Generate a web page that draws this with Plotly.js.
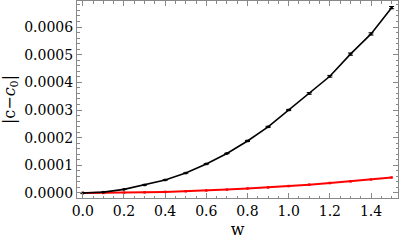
<!DOCTYPE html>
<html><head><meta charset="utf-8">
<script src="https://cdn.plot.ly/plotly-3.0.1.min.js"></script>
<style>html,body{margin:0;padding:0;background:#fff}#chart{width:399px;height:245px}</style>
</head><body><div id="chart"></div>
<script>
const w = [0.0,0.1,0.2,0.3,0.4,0.5,0.6,0.7,0.8,0.9,1.0,1.1,1.2,1.3,1.4,1.5];
const blackVals = [0,0.000003,0.000013,0.000029,0.000047,0.000072,0.000105,0.000143,0.000188,0.000239,0.0003,0.00036,0.000422,0.000502,0.000575,0.00067];
const blackErr = [0,0,0,0,0,0,0.000001,0.000001,0.000002,0.000002,0.000002,0.000003,0.000003,0.000004,0.000004,0.000004];
const redVals = [0,0.0000003,0.000001,0.0000023,0.000004,0.0000063,0.000009,0.0000123,0.000016,0.00002,0.000025,0.00003,0.000036,0.000042,0.000049,0.000056];

const traces = [
  {x:w, y:redVals, mode:'lines+markers', line:{color:'#ff0000', width:2}, marker:{color:'#ff0000', size:2.5, symbol:'square'}},
  {x:w, y:blackVals, mode:'lines+markers', line:{color:'#000', width:1.6}, marker:{color:'#000', size:2.5, symbol:'square'},
   error_y:{type:'data', array:blackErr, visible:true, color:'#000', thickness:1, width:2.5}}
];
const FAM = 'DejaVu Serif';
const tickF = {family:FAM, size:14, color:'#000'};
const titleF = {family:FAM, size:16, color:'#000'};
const layout = {
  width:399, height:245, margin:{l:77, r:1, t:1, b:47},
  showlegend:false, paper_bgcolor:'#fff', plot_bgcolor:'#fff',
  font: tickF,
  xaxis:{range:[-0.028,1.531], dtick:0.2, tick0:0, tickformat:'.1f', ticks:'inside', ticklen:5, tickcolor:'#888',
    minor:{dtick:0.05, tick0:0, ticks:'inside', ticklen:2.5, tickcolor:'#888', showgrid:false},
    showline:true, linecolor:'#888', linewidth:1, mirror:'allticks', showgrid:false, zeroline:false, automargin:true,
    tickfont:tickF, title:{text:'w', font:titleF, standoff:6}},
  yaxis:{range:[-0.0000181,0.000694], dtick:0.0001, tick0:0, tickformat:'.4f', ticks:'inside', ticklen:5, tickcolor:'#888',
    minor:{dtick:0.00002, tick0:0, ticks:'inside', ticklen:2.5, tickcolor:'#888', showgrid:false},
    showline:true, linecolor:'#888', linewidth:1, mirror:'allticks', showgrid:false, zeroline:false, automargin:true,
    tickfont:tickF, title:{text:'|c\u2212<i>c</i><sub>0</sub>|', font:titleF, standoff:4}}
};
Plotly.newPlot('chart', traces, layout, {staticPlot:true, displayModeBar:false});
</script></body></html>
